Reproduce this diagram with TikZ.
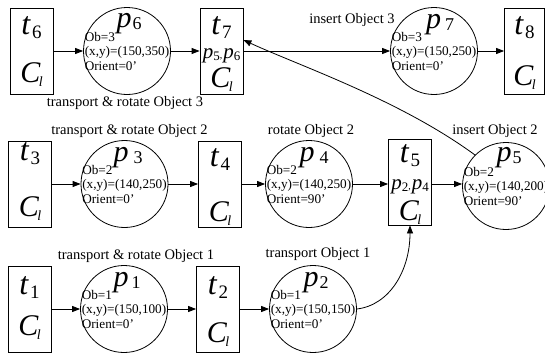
\documentclass[tikz,border=0pt]{standalone}
\usepackage{fontspec}
\setmainfont{Liberation Serif}
\usetikzlibrary{arrows.meta}
\newcommand\Tlab[1]{{\fontsize{32}{32}\selectfont\itshape t}\kern2pt\raisebox{-4pt}{\fontsize{19}{19}\selectfont #1}}
\newcommand\Plab[2][1pt]{{\fontsize{30}{30}\selectfont\itshape p}\kern#1\raisebox{-2pt}{\fontsize{18}{18}\selectfont #2}}
\newcommand\Clab{{\fontsize{30}{30}\selectfont\itshape C}\kern-1.5pt\raisebox{-4pt}{\fontsize{14}{14}\selectfont\itshape l}}
\newcommand\PPlab[2]{{\fontsize{21}{21}\selectfont\itshape p}\raisebox{-2pt}{\fontsize{13}{13}\selectfont #1},\kern1pt{\fontsize{21}{21}\selectfont\itshape p}\raisebox{-2pt}{\fontsize{13}{13}\selectfont #2}}
\tikzset{
  trans/.style={draw, line width=0.8pt, minimum width=43pt, minimum height=86pt, inner sep=0pt},
  place/.style={draw, circle, line width=0.8pt, minimum size=87pt, inner sep=0pt},
  arr/.style={-{Triangle[length=8pt,width=6pt]}, line width=0.8pt},
  lbl/.style={font=\fontsize{14.5}{15}\selectfont, inner sep=0pt},
  info/.style={font=\fontsize{13.2}{14.5}\selectfont, align=left, inner sep=0pt, anchor=west},
  sym/.style={inner sep=0pt, anchor=base},
}
\begin{document}
\begin{tikzpicture}[x=1pt,y=-1pt]
\useasboundingbox (0,0) rectangle (545,356);
% ---- row 1
\node[trans] (t6) at (31.5,51) {};
\node[place] (p6) at (127,51) {};
\node[trans] (t7) at (221.5,51) {};
\node[place] (p7) at (434,51) {};
\node[trans, minimum width=40pt] (t8) at (524.5,51) {};
% ---- row 2
\node[trans] (t3) at (30,184) {};
\node[place] (p3) at (124.5,184) {};
\node[trans] (t4) at (220,184) {};
\node[place] (p4) at (309,184) {};
\node[trans] (t5) at (410,182) {};
\node[place] (p5) at (506,186) {};
% ---- row 3
\node[trans] (t1) at (29.5,309) {};
\node[place] (p1) at (124,309) {};
\node[trans] (t2) at (218,309) {};
\node[place] (p2) at (313,309) {};

% transition labels
\node[sym] (t6a) at (31.5,34) {\Tlab{6}};
\node[sym] (t6b) at (31.5,82) {\Clab};
\node[sym] (t7a) at (221.5,34) {\Tlab{7}};
\node[sym] (t7m) at (221.5,58) {\PPlab{5}{6}};
\node[sym] (t7b) at (221.5,87) {\Clab};
\node[sym] (t8a) at (524.5,34) {\Tlab{8}};
\node[sym] (t8b) at (524.5,85) {\Clab};
\node[sym] (t3a) at (30,160) {\Tlab{3}};
\node[sym] (t3b) at (30,216) {\Clab};
\node[sym] (t4a) at (220,166) {\Tlab{4}};
\node[sym] (t4b) at (220,221) {\Clab};
\node[sym] (t5a) at (410,162) {\Tlab{5}};
\node[sym] (t5m) at (410,189) {\PPlab{2}{4}};
\node[sym] (t5b) at (410,220) {\Clab};
\node[sym] (t1a) at (29.5,294) {\Tlab{1}};
\node[sym] (t1b) at (29.5,335) {\Clab};
\node[sym] (t2a) at (218,294) {\Tlab{2}};
\node[sym] (t2b) at (218,342) {\Clab};

% place labels
\node[sym] (p6a) at (129,27) {\Plab{6}};
\node[sym] (p7a) at (440,28) {\Plab[4pt]{7}};
\node[sym] (p3a) at (128,161) {\Plab[5pt]{3}};
\node[sym] (p4a) at (314,161) {\Plab[5pt]{4}};
\node[sym] (p5a) at (509,161) {\Plab{5}};
\node[sym] (p1a) at (127,286) {\Plab[3pt]{1}};
\node[sym] (p2a) at (316,286) {\Plab{2}};

% place info
\node[info] (p6i) at ([xshift=1.5pt]p6.west) {Ob=3\\(x,y)=(150,350)\\Orient=0’};
\node[info] (p7i) at ([xshift=1.5pt]p7.west) {Ob=3\\(x,y)=(150,250)\\Orient=0’};
\node[info] (p3i) at ([xshift=1.5pt]p3.west) {Ob=2\\(x,y)=(140,250)\\Orient=0’};
\node[info] (p4i) at ([xshift=1.5pt]p4.west) {Ob=2\\(x,y)=(140,250)\\Orient=90’};
\node[info] (p5i) at ([xshift=1.5pt]p5.west) {Ob=2\\(x,y)=(140,200)\\Orient=90’};
\node[info] (p1i) at ([xshift=1.5pt]p1.west) {Ob=1\\(x,y)=(150,100)\\Orient=0’};
\node[info] (p2i) at ([xshift=1.5pt]p2.west) {Ob=1\\(x,y)=(150,150)\\Orient=0’};

% arc labels
\node[lbl] (l3) at (125,103) {transport \& rotate Object 3};
\node[lbl] (l3i) at (352,20) {insert Object 3};
\node[lbl] (l2) at (129.5,131) {transport \& rotate Object 2};
\node[lbl] (l2r) at (311,131) {rotate Object 2};
\node[lbl] (l2i) at (495,131) {insert Object 2};
\node[lbl] (l1) at (136,256) {transport \& rotate Object 1};
\node[lbl] (l1t) at (318,254) {transport Object 1};

% arcs
\draw[arr] (t6) -- (p6);
\draw[arr] (p6) -- (t7);
\draw[arr] (t7) -- (p7);
\draw[arr] (p7) -- (t8);
\draw[arr] (t3) -- (p3);
\draw[arr] (p3) -- (t4);
\draw[arr] (t4) -- (p4);
\draw[arr] (p4.east) -- (p4.east -| t5.west);
\draw[arr] (t5.east |- p4.east) -- (p5.west |- p4.east);
\draw[arr] (t1) -- (p1);
\draw[arr] (p1) -- (t2);
\draw[arr] (t2) -- (p2);
\draw[arr] (p5.135) .. controls (400,100) and (300,66) .. ([yshift=11pt]t7.east);
\draw[arr] (p2.east) .. controls (390,305) and (410,270) .. (t5.south);
\end{tikzpicture}
\end{document}
